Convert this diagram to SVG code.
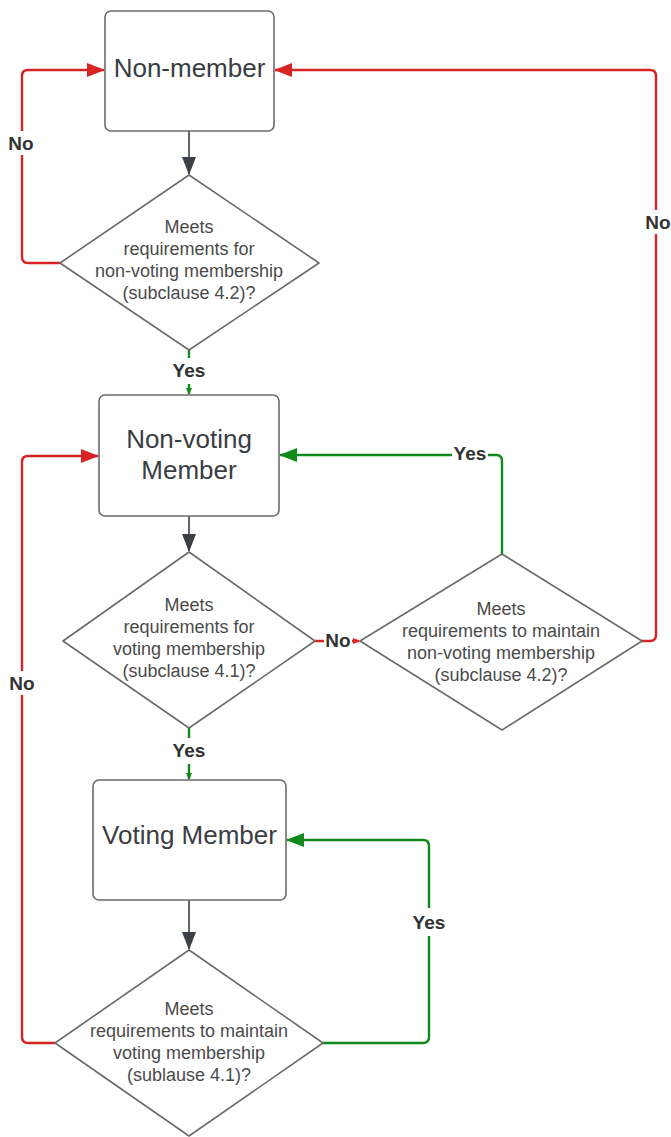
<svg xmlns="http://www.w3.org/2000/svg" width="671" height="1137" viewBox="0 0 671 1137">
<defs>
<style>
.node{fill:#fff;stroke:#6b6b6b;stroke-width:1.6;stroke-linejoin:round}
.big{font-family:"Liberation Sans",Arial,sans-serif;font-size:26px;fill:#3a3d42;text-anchor:middle}
.q{font-family:"Liberation Sans",Arial,sans-serif;font-size:18px;fill:#4a4a4a;text-anchor:middle}
.lbl{font-family:"Liberation Sans",Arial,sans-serif;font-size:19px;font-weight:bold;fill:#333;text-anchor:middle}
.red{fill:none;stroke:#d92424;stroke-width:2.4}
.grn{fill:none;stroke:#128a1a;stroke-width:2.4}
.dk{fill:none;stroke:#3a3f48;stroke-width:1.6}
.bg{fill:#fff}
</style>
<marker id="aR" markerWidth="18" markerHeight="14" refX="17" refY="7" orient="auto" markerUnits="userSpaceOnUse"><path d="M0,0 L18,7 L0,14 Z" fill="#d92424"/></marker>
<marker id="aG" markerWidth="18" markerHeight="14" refX="17" refY="7" orient="auto" markerUnits="userSpaceOnUse"><path d="M0,0 L18,7 L0,14 Z" fill="#128a1a"/></marker>
<marker id="aD" markerWidth="18" markerHeight="14" refX="17" refY="7" orient="auto" markerUnits="userSpaceOnUse"><path d="M0,0 L18,7 L0,14 Z" fill="#3a3f48"/></marker>
<marker id="sG" markerWidth="7" markerHeight="6" refX="6" refY="3" orient="auto" markerUnits="userSpaceOnUse"><path d="M0,0 L7,3 L0,6 Z" fill="#128a1a"/></marker>
<marker id="sR" markerWidth="7" markerHeight="6" refX="6" refY="3" orient="auto" markerUnits="userSpaceOnUse"><path d="M0,0 L7,3 L0,6 Z" fill="#d92424"/></marker>
</defs>
<rect width="671" height="1137" fill="#fff"/>
<g id="connectors">
<line class="dk" x1="189" y1="131" x2="189" y2="174" marker-end="url(#aD)"/>
<line class="dk" x1="189" y1="516" x2="189" y2="551" marker-end="url(#aD)"/>
<line class="dk" x1="189" y1="900" x2="189" y2="949" marker-end="url(#aD)"/>
<path class="red" d="M60,263 H28 Q22,263 22,257 V76 Q22,70 28,70 H104" marker-end="url(#aR)"/>
<path class="red" d="M641,641 H650 Q656,641 656,635 V76 Q656,70 650,70 H275" marker-end="url(#aR)"/>
<path class="red" d="M55,1043 H28 Q22,1043 22,1037 V462 Q22,456 28,456 H98" marker-end="url(#aR)"/>
<path class="grn" d="M502,554 V461 Q502,455 496,455 H280" marker-end="url(#aG)"/>
<path class="grn" d="M323,1043 H423 Q429,1043 429,1037 V846 Q429,840 423,840 H287" marker-end="url(#aG)"/>
<line class="grn" x1="189" y1="350" x2="189" y2="394" marker-end="url(#sG)"/>
<line class="grn" x1="189" y1="728" x2="189" y2="779" marker-end="url(#sG)"/>
<line class="red" x1="315" y1="641" x2="359" y2="641" marker-end="url(#sR)"/>
<rect class="bg" x="6" y="131" width="32" height="24"/>
<text class="lbl" x="21" y="150">No</text>
<rect class="bg" x="643" y="210" width="28" height="24"/>
<text class="lbl" x="658" y="229">No</text>
<rect class="bg" x="6" y="671" width="32" height="24"/>
<text class="lbl" x="22" y="690">No</text>
<rect class="bg" x="171" y="358" width="36" height="26"/>
<text class="lbl" x="189" y="377">Yes</text>
<rect class="bg" x="171" y="738" width="36" height="26"/>
<text class="lbl" x="189" y="757">Yes</text>
<rect class="bg" x="452" y="442" width="36" height="24"/>
<text class="lbl" x="470" y="460">Yes</text>
<rect class="bg" x="411" y="908" width="36" height="28"/>
<text class="lbl" x="429" y="929">Yes</text>
<rect class="bg" x="324" y="630" width="28" height="22"/>
<text class="lbl" x="338" y="647">No</text>
</g>
<g id="non-member">
<rect class="node" x="105" y="11" width="169" height="120" rx="6"/>
<text class="big" x="189.5" y="77">Non-member</text>
</g>
<g id="q-nonvoting">
<path class="node" d="M189,175 L319,263 L189,350 L60,263 Z"/>
<text class="q" x="189" y="233">Meets</text>
<text class="q" x="189" y="255">requirements for</text>
<text class="q" x="189" y="277">non-voting membership</text>
<text class="q" x="189" y="299">(subclause 4.2)?</text>
</g>
<g id="non-voting-member">
<rect class="node" x="99" y="395" width="180" height="121" rx="6"/>
<text class="big" x="189" y="448">Non-voting</text>
<text class="big" x="189" y="479">Member</text>
</g>
<g id="q-voting">
<path class="node" d="M189,552 L315,641 L189,728 L63,641 Z"/>
<text class="q" x="189" y="611">Meets</text>
<text class="q" x="189" y="633">requirements for</text>
<text class="q" x="189" y="655">voting membership</text>
<text class="q" x="189" y="677">(subclause 4.1)?</text>
</g>
<g id="q-maintain-nonvoting">
<path class="node" d="M502,554 L642,641 L502,730 L360,641 Z"/>
<text class="q" x="501" y="615">Meets</text>
<text class="q" x="501" y="637">requirements to maintain</text>
<text class="q" x="501" y="659">non-voting membership</text>
<text class="q" x="501" y="681">(subclause 4.2)?</text>
</g>
<g id="voting-member">
<rect class="node" x="93" y="780" width="193" height="120" rx="6"/>
<text class="big" x="189.5" y="844">Voting Member</text>
</g>
<g id="q-maintain-voting">
<path class="node" d="M189,950 L323,1043 L189,1136 L55,1043 Z"/>
<text class="q" x="189" y="1015">Meets</text>
<text class="q" x="189" y="1037">requirements to maintain</text>
<text class="q" x="189" y="1059">voting membership</text>
<text class="q" x="189" y="1081">(sublause 4.1)?</text>
</g>
</svg>
